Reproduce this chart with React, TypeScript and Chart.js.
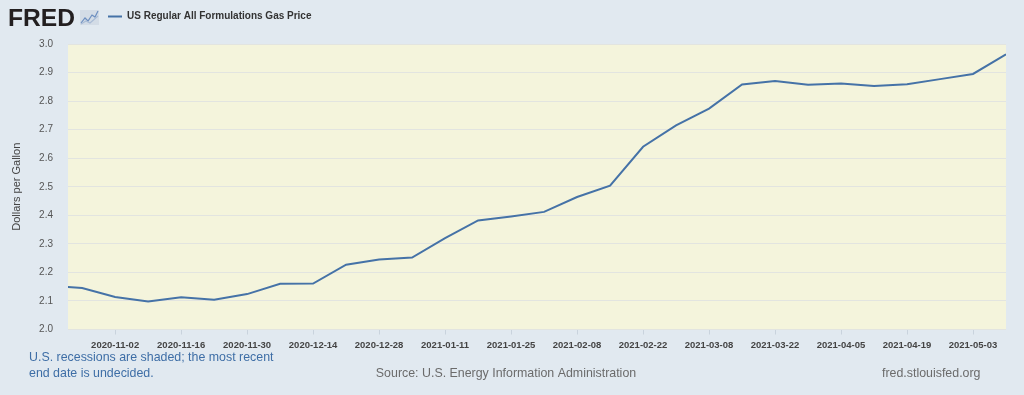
import React, { useEffect, useRef } from "react";
import { Chart, registerables } from "chart.js";

Chart.register(...registerables);

const weekDates = [
  "2020-10-19", "2020-10-26", "2020-11-02", "2020-11-09", "2020-11-16", "2020-11-23",
  "2020-11-30", "2020-12-07", "2020-12-14", "2020-12-21", "2020-12-28", "2021-01-04",
  "2021-01-11", "2021-01-18", "2021-01-25", "2021-02-01", "2021-02-08", "2021-02-15",
  "2021-02-22", "2021-03-01", "2021-03-08", "2021-03-15", "2021-03-22", "2021-03-29",
  "2021-04-05", "2021-04-12", "2021-04-19", "2021-04-26", "2021-05-03", "2021-05-10",
];

const gasPrices = [
  2.155, 2.145, 2.114, 2.098, 2.113, 2.104,
  2.124, 2.160, 2.161, 2.227, 2.245, 2.252,
  2.320, 2.382, 2.396, 2.412, 2.464, 2.504,
  2.640, 2.715, 2.774, 2.858, 2.870, 2.857,
  2.862, 2.853, 2.859, 2.877, 2.895, 2.964,
];

const xTickLabels = [
  "2020-11-02", "2020-11-16", "2020-11-30", "2020-12-14", "2020-12-28", "2021-01-11",
  "2021-01-25", "2021-02-08", "2021-02-22", "2021-03-08", "2021-03-22", "2021-04-05",
  "2021-04-19", "2021-05-03",
];

const xRangeStart = "2020-10-23";
const xRangeEnd = "2021-05-10";

const seriesName = "US Regular All Formulations Gas Price";
const yAxisTitle = "Dollars per Gallon";
const noteLine1 = "U.S. recessions are shaded; the most recent";
const noteLine2 = "end date is undecided.";
const sourceText = "Source: U.S. Energy Information Administration";
const siteText = "fred.stlouisfed.org";

function dayNum(s: string): number {
  const [y, m, d] = s.split("-").map(Number);
  return Date.UTC(y, m - 1, d) / 86400000;
}

const PAGE_BG = "#e1e9f0";
const PLOT_BG = "#f4f4dc";
const LINE = "#4572a7";
const FONT = "'Liberation Sans', Arial, sans-serif";

const decorPlugin = {
  id: "fredDecor",
  beforeDraw(chart: any) {
    const { ctx, chartArea } = chart;
    ctx.save();
    ctx.fillStyle = PAGE_BG;
    ctx.fillRect(0, 0, chart.width, chart.height);
    ctx.fillStyle = PLOT_BG;
    ctx.fillRect(chartArea.left, chartArea.top, chartArea.right - chartArea.left, chartArea.bottom - chartArea.top);
    ctx.restore();
  },
  afterDraw(chart: any) {
    const { ctx, chartArea } = chart;
    ctx.save();
    // FRED logo
    ctx.font = `bold 23px ${FONT}`;
    ctx.fillStyle = "#231f20";
    ctx.textBaseline = "alphabetic";
    const w = ctx.measureText("FRED").width;
    ctx.save();
    ctx.translate(8, 26);
    ctx.scale(67 / w, 1);
    ctx.fillText("FRED", 0, 0);
    ctx.restore();
    // small icon
    ctx.fillStyle = "#d3dce6";
    ctx.fillRect(80, 10, 19, 15);
    ctx.strokeStyle = "#6d8fc0";
    ctx.lineWidth = 1.2;
    ctx.beginPath();
    ctx.moveTo(81, 23); ctx.lineTo(85, 18); ctx.lineTo(88, 21); ctx.lineTo(92, 15); ctx.lineTo(95, 17); ctx.lineTo(98, 11);
    ctx.stroke();
    ctx.strokeStyle = "#a9bcd6";
    ctx.beginPath();
    ctx.moveTo(81, 24); ctx.lineTo(86, 21); ctx.lineTo(90, 23); ctx.lineTo(98, 16);
    ctx.stroke();
    // legend
    ctx.strokeStyle = LINE;
    ctx.lineWidth = 2;
    ctx.beginPath();
    ctx.moveTo(108, 16.5);
    ctx.lineTo(122, 16.5);
    ctx.stroke();
    ctx.font = `bold 10px ${FONT}`;
    ctx.fillStyle = "#333333";
    ctx.textBaseline = "middle";
    ctx.textAlign = "left";
    ctx.fillText(seriesName, 127, 16.5);
    // y axis title
    ctx.save();
    ctx.translate(17, (chartArea.top + chartArea.bottom) / 2);
    ctx.rotate(-Math.PI / 2);
    ctx.font = `11px ${FONT}`;
    ctx.fillStyle = "#444444";
    ctx.textAlign = "center";
    ctx.textBaseline = "middle";
    ctx.fillText(yAxisTitle, 0, 0);
    ctx.restore();
    // footer
    ctx.font = `12.4px ${FONT}`;
    ctx.textBaseline = "middle";
    ctx.fillStyle = "#3e6ea6";
    ctx.textAlign = "left";
    ctx.fillText(noteLine1, 29, 358);
    ctx.fillText(noteLine2, 29, 373.5);
    ctx.fillStyle = "#6b6b6b";
    ctx.textAlign = "center";
    ctx.fillText(sourceText, 506, 373.5);
    ctx.textAlign = "left";
    ctx.fillText(siteText, 882, 373.5);
    ctx.restore();
  },
};

export default function App() {
  const canvasRef = useRef<HTMLCanvasElement | null>(null);

  useEffect(() => {
    if (!canvasRef.current) return;
    const points = weekDates.map((d, i) => ({ x: dayNum(d), y: gasPrices[i] }));
    const tickValues = xTickLabels.map((d) => dayNum(d));
    const chart = new Chart(canvasRef.current, {
      type: "line",
      data: {
        datasets: [
          {
            label: seriesName,
            data: points,
            borderColor: LINE,
            backgroundColor: LINE,
            borderWidth: 2,
            pointRadius: 0,
            tension: 0,
            fill: false,
          },
        ],
      },
      options: {
        responsive: false,
        animation: false,
        layout: { padding: { left: 0, right: 18, top: 44, bottom: 0 } },
        plugins: {
          legend: { display: false },
          tooltip: { enabled: false },
          title: { display: false },
        },
        scales: {
          x: {
            type: "linear",
            min: dayNum(xRangeStart),
            max: dayNum(xRangeEnd),
            border: { display: false },
            grid: {
              drawOnChartArea: false,
              drawTicks: true,
              tickLength: 5,
              color: "#c9d3dd",
            },
            afterBuildTicks(scale: any) {
              scale.ticks = tickValues.map((v) => ({ value: v }));
            },
            afterFit(scale: any) {
              scale.height = 65.5;
            },
            ticks: {
              autoSkip: false,
              maxRotation: 0,
              padding: 5,
              color: "#444444",
              font: { family: FONT, size: 9.5, weight: "bold" },
              callback(value: any) {
                const i = tickValues.indexOf(Number(value));
                return i >= 0 ? xTickLabels[i] : "";
              },
            },
          },
          y: {
            min: 2.0,
            max: 3.0,
            border: { display: false },
            grid: { color: "#e2e4e0", drawTicks: false },
            afterFit(scale: any) {
              scale.width = 68;
            },
            ticks: {
              stepSize: 0.1,
              padding: 15,
              color: "#555555",
              font: { family: FONT, size: 10 },
              callback(value: any) {
                return Number(value).toFixed(1);
              },
            },
          },
        },
      },
      plugins: [decorPlugin],
    });
    return () => chart.destroy();
  }, []);

  return (
    <div style={{ position: "absolute", left: 0, top: 0, width: 1024, height: 395, background: PAGE_BG }}>
      <canvas ref={canvasRef} width={1024} height={395} style={{ display: "block" }} />
    </div>
  );
}
